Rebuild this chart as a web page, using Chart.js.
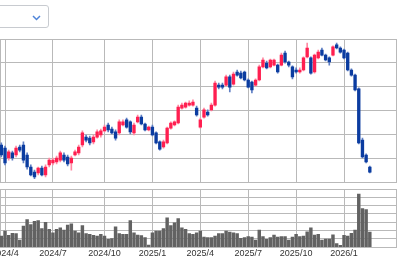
<!DOCTYPE html>
<html lang="ja">
<head>
<meta charset="UTF-8">
<title>週足チャート</title>
<script src="https://cdn.jsdelivr.net/npm/chart.js@4.4.1/dist/chart.umd.min.js"></script>
<style>
  html, body { margin: 0; padding: 0; background: #fff; }
  body { width: 400px; height: 260px; position: relative; overflow: hidden; }
  .select { position: absolute; left: -60px; top: 5px; width: 107px; height: 21px;
            border: 1px solid #c8cbd0; border-radius: 3px; background: #fff; z-index: 2; }
  .select svg { position: absolute; right: 7px; top: 9px; }
  #priceChart { position: absolute; left: -20px; top: 0; }
  #volumeChart { position: absolute; left: -20px; top: 182px; }
</style>
</head>
<body>
  <div class="select">
    <svg width="9" height="6" viewBox="0 0 9 6"><polyline points="1,1 4.5,4.5 8,1" fill="none" stroke="#4f84d9" stroke-width="1.5"/></svg>
  </div>
  <canvas id="priceChart" width="420" height="190"></canvas>
  <canvas id="volumeChart" width="420" height="78"></canvas>

<script>
// weekly candles, week 0 = 2024/3/25
var open = [3430,3370,3175,3275,3235,3390,3430,3235,3000,2900,
            2885,2980,2845,3040,3080,3100,3135,3235,3195,3080,
            3235,3275,3430,3585,3565,3490,3585,3625,3705,3820,
            3740,3685,3665,3820,3920,3880,3665,3880,3975,3840,
            3725,3780,3665,3490,3390,3470,3760,3820,3860,4150,
            4170,4210,4210,4150,3780,3975,4075,4115,4210,4600,
            4600,4600,4760,4620,4855,4835,4855,4700,4660,4600,
            4700,4955,5030,4955,4990,4990,4990,5225,5050,4955,
            4895,4855,4895,5150,5130,4855,5130,5285,5185,5130,
            5185,5385,5325,5285,5225,4895,4795,4525,3525,3235,
            3000];
var high = [3470,3410,3330,3310,3410,3430,3490,3275,3040,2940,
            3000,3020,3040,3175,3175,3215,3310,3275,3235,3215,
            3330,3430,3705,3625,3605,3625,3725,3740,3820,3860,
            3780,3725,3920,3920,3955,3900,3860,4015,4015,3860,
            3800,3820,3685,3510,3525,3780,3880,3900,4210,4250,
            4270,4290,4310,4190,3955,4150,4115,4250,4680,4640,
            4640,4795,4795,4855,4895,4875,4875,4720,4680,4720,
            4990,5130,5070,5110,5110,5010,5225,5265,5070,4975,
            4935,4935,5150,5420,5150,5205,5285,5325,5205,5150,
            5365,5420,5345,5305,5245,4915,4815,4545,3565,3255,
            3020];
var low = [3195,3040,3135,3135,3195,3295,3080,2960,2825,2770,
           2845,2825,2805,3000,3040,3060,3100,3100,3020,2940,
           3215,3235,3390,3490,3430,3450,3565,3585,3685,3685,
           3645,3525,3625,3800,3760,3645,3625,3860,3820,3705,
           3705,3605,3450,3330,3370,3450,3740,3800,3840,4130,
           4150,4190,4190,3995,3760,3955,3995,4095,4190,4525,
           4525,4580,4465,4600,4775,4720,4680,4545,4445,4580,
           4680,4935,4915,4935,4975,4835,4975,5030,4955,4720,
           4835,4835,4875,5130,4815,4835,5110,5170,5070,4990,
           5170,5305,5225,5110,4875,4775,4485,3450,3175,3080,
           2885];
var close = [3235,3080,3295,3175,3370,3330,3135,3000,2845,2805,
             2980,2845,3000,3135,3135,3175,3275,3135,3060,3175,
             3295,3390,3665,3525,3470,3585,3685,3705,3780,3725,
             3665,3565,3880,3880,3780,3685,3820,3975,3840,3725,
             3780,3625,3470,3350,3490,3760,3860,3880,4170,4210,
             4250,4250,4270,4015,3920,4115,4015,4210,4640,4560,
             4560,4760,4560,4815,4795,4740,4700,4560,4505,4700,
             4955,5090,4935,5090,5090,4855,5185,5050,4990,4760,
             4855,4895,5130,5325,4835,5185,5245,5185,5090,5050,
             5345,5325,5245,5130,4895,4795,4505,3470,3195,3100,
             2900];
var volume = [1340,1930,1420,1660,1630,870,2530,3320,2730,3120,
              3200,2250,3000,2140,1740,2140,2340,2050,2650,2810,
              1930,1740,2610,1630,1540,1420,1340,1540,1340,950,
              1030,2460,1630,1540,1540,3200,1740,1460,1400,1150,
              240,1740,1930,1930,2250,3520,2610,2930,3440,2340,
              2140,1630,1540,1740,1930,1220,1150,1150,1340,1630,
              1630,1930,1820,1740,1630,1070,1150,1270,1220,870,
              2050,1270,950,1150,1460,1220,1270,1270,870,1220,
              1540,1270,1340,1860,2340,1460,1540,870,980,980,
              1500,450,220,1420,1340,1660,2050,6400,4630,4510,
              1820];

// first week of each quarter
var quarterWeeks = [1, 14, 28, 41, 54, 67, 80, 93];
var quarterLabels = ['2024/4', '2024/7', '2024/10', '2025/1', '2025/4', '2025/7', '2025/10', '2026/1'];

var UP = '#ff1f50';
var DOWN = '#0b3ca0';
var UP_WICK = '#ff8aa3';
var DOWN_WICK = '#5f7fc4';
var GRID = '#b9b9b9';
var xMin = -0.36, xMax = 107.24;

Chart.defaults.font.family = '"Liberation Sans", Arial, sans-serif';
Chart.defaults.font.size = 9;
Chart.defaults.color = '#333';

function isUp(i) { return close[i] >= open[i]; }

function xAxis(showLabels) {
  return {
    type: 'linear',
    min: xMin,
    max: xMax,
    offset: false,
    afterBuildTicks: function (scale) {
      scale.ticks = [xMin].concat(quarterWeeks, [xMax]).map(function (v) { return { value: v }; });
    },
    ticks: {
      display: showLabels,
      autoSkip: false,
      maxRotation: 0,
      padding: 1,
      callback: function (v) {
        var i = quarterWeeks.indexOf(v);
        return i < 0 ? '' : quarterLabels[i];
      }
    },
    grid: { color: GRID, drawTicks: false, offset: false },
    border: { color: GRID }
  };
}

var bodies = open.map(function (o, i) { return { x: i, y: [o, close[i]] }; });
var wicks = open.map(function (o, i) { return { x: i, y: [low[i], high[i]] }; });

new Chart(document.getElementById('priceChart'), {
  type: 'bar',
  data: {
    datasets: [
      {
        data: bodies,
        grouped: false,
        barThickness: 2.7,
        minBarLength: 1,
        backgroundColor: function (ctx) { return isUp(ctx.dataIndex) ? UP : DOWN; }
      },
      {
        data: wicks,
        grouped: false,
        barThickness: 1,
        backgroundColor: function (ctx) { return isUp(ctx.dataIndex) ? UP_WICK : DOWN_WICK; }
      }
    ]
  },
  options: {
    responsive: false,
    animation: false,
    layout: { padding: { left: 20, right: 3.5, top: 39, bottom: 8 } },
    plugins: { legend: { display: false }, tooltip: { enabled: false } },
    scales: {
      x: xAxis(false),
      y: {
        min: 2707,
        max: 5500,
        ticks: { display: false, stepSize: 500 },
        grid: { color: GRID, drawTicks: false },
        border: { color: GRID }
      }
    }
  }
});

new Chart(document.getElementById('volumeChart'), {
  type: 'bar',
  data: {
    datasets: [{
      data: volume.map(function (v, i) { return { x: i, y: v }; }),
      barThickness: 2.8,
      backgroundColor: '#626262'
    }]
  },
  options: {
    responsive: false,
    animation: false,
    layout: { padding: { left: 20, right: 3.5, top: 7, bottom: 0 } },
    plugins: { legend: { display: false }, tooltip: { enabled: false } },
    scales: {
      x: xAxis(true),
      y: {
        min: 0,
        max: 7000,
        ticks: { display: false, stepSize: 1000 },
        grid: { color: GRID, drawTicks: false },
        border: { color: GRID }
      }
    }
  }
});
</script>
</body>
</html>
